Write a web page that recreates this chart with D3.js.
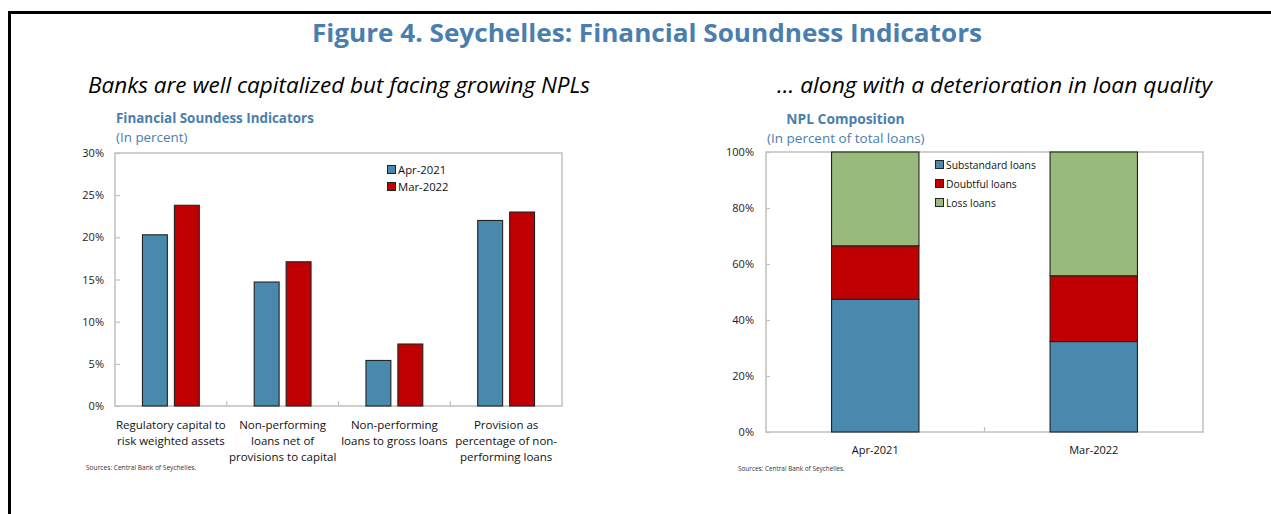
<!DOCTYPE html>
<html>
<head>
<meta charset="utf-8">
<script src="https://cdn.jsdelivr.net/npm/d3@7/dist/d3.min.js"></script>
<style>
  html, body { margin: 0; padding: 0; background: #fff; }
  svg { display: block; }
  text { font-family: "Open Sans", "Noto Sans", sans-serif; }
</style>
</head>
<body>
<svg id="fig" width="1271" height="514"></svg>
<script>
// Financial soundness indicators (percent)
const fsiCategories = [
  ["Regulatory capital to", "risk weighted assets"],
  ["Non-performing", "loans net of", "provisions to capital"],
  ["Non-performing", "loans to gross loans"],
  ["Provision as", "percentage of non-", "performing loans"]
];
const fsiSeries = ["Apr-2021", "Mar-2022"];
const fsiApr2021 = [20.3, 14.7, 5.4, 22.0];
const fsiMar2022 = [23.8, 17.1, 7.35, 23.0];
const fsiTicks = [0, 5, 10, 15, 20, 25, 30];

// NPL composition (percent of total NPLs)
const nplPeriods = ["Apr-2021", "Mar-2022"];
const nplLayers = ["Substandard loans", "Doubtful loans", "Loss loans"];
const nplSubstandard = [47.4, 32.3];
const nplDoubtful = [19.1, 23.5];
const nplLoss = [33.5, 44.2];
const nplTicks = [0, 20, 40, 60, 80, 100];

const BLUE = "#4a89ae";
const RED = "#c00000";
const GREEN = "#98bb7b";
const TITLE_BLUE = "#4a7eae";
const AXIS_GREY = "#c0c0c0";

const svg = d3.select("#fig");

// Frame lines: top rule and left rule
svg.append("line").attr("x1", 8).attr("x2", 1271).attr("y1", 12.5).attr("y2", 12.5)
  .attr("stroke", "#000").attr("stroke-width", 3);
svg.append("line").attr("x1", 9.5).attr("x2", 9.5).attr("y1", 11).attr("y2", 514)
  .attr("stroke", "#000").attr("stroke-width", 3);

// Figure title
svg.append("text").attr("x", 647).attr("y", 42).attr("text-anchor", "middle")
  .attr("font-size", 24.5).attr("font-weight", 700).attr("fill", TITLE_BLUE)
  .attr("textLength", 670).attr("lengthAdjust", "spacingAndGlyphs")
  .text("Figure 4. Seychelles: Financial Soundness Indicators");

// Panel headlines
svg.append("text").attr("x", 88).attr("y", 93)
  .attr("font-size", 22).attr("font-style", "italic").attr("font-family", "Lato, 'Open Sans', sans-serif")
  .attr("textLength", 502).attr("lengthAdjust", "spacingAndGlyphs")
  .text("Banks are well capitalized but facing growing NPLs");
svg.append("text").attr("x", 777).attr("y", 93)
  .attr("font-size", 22).attr("font-style", "italic").attr("font-family", "Lato, 'Open Sans', sans-serif")
  .attr("textLength", 435).attr("lengthAdjust", "spacingAndGlyphs")
  .text("\u2026 along with a deterioration in loan quality");

// ---------- Left panel: grouped bars ----------
{
  const L = 115, R = 562, T = 153, B = 406;
  const g = svg.append("g");

  g.append("text").attr("x", 116).attr("y", 123).attr("font-size", 13.4).attr("font-weight", 700)
    .attr("fill", TITLE_BLUE).text("Financial Soundess Indicators");
  g.append("text").attr("x", 116).attr("y", 142).attr("font-size", 13.4)
    .attr("fill", TITLE_BLUE).text("(In percent)");

  const x = d3.scaleBand().domain(d3.range(fsiCategories.length)).range([L, R]);
  const xs = d3.scaleBand().domain(fsiSeries).range([0, x.bandwidth()]).paddingInner(0.22).paddingOuter(0.86);
  const y = d3.scaleLinear().domain([0, 30]).range([B, T]);

  // plot frame
  g.append("rect").attr("x", L).attr("y", T).attr("width", R - L).attr("height", B - T)
    .attr("fill", "none").attr("stroke", AXIS_GREY).attr("stroke-width", 1.5);

  // y axis
  const ya = g.append("g").attr("transform", `translate(${L},0)`)
    .call(d3.axisLeft(y).tickValues(fsiTicks).tickFormat(d => d + "%").tickSizeInner(-5).tickSizeOuter(0).tickPadding(11));
  ya.select(".domain").remove();
  ya.selectAll(".tick line").attr("stroke", AXIS_GREY).attr("stroke-width", 1.2);
  ya.selectAll(".tick text").attr("font-size", 11).attr("fill", "#222").attr("font-family", "'Open Sans', sans-serif");

  // category separators on x axis
  g.selectAll(".sep").data(d3.range(1, fsiCategories.length)).join("line")
    .attr("x1", d => x(d)).attr("x2", d => x(d)).attr("y1", B).attr("y2", B - 5)
    .attr("stroke", AXIS_GREY).attr("stroke-width", 1.2);

  const rows = fsiCategories.map((c, i) => ({ i, vals: [fsiApr2021[i], fsiMar2022[i]] }));
  const colors = { "Apr-2021": BLUE, "Mar-2022": RED };
  const grp = g.selectAll(".grp").data(rows).join("g").attr("transform", d => `translate(${x(d.i)},0)`);
  grp.selectAll("rect").data(d => fsiSeries.map((s, k) => ({ s, v: d.vals[k] }))).join("rect")
    .attr("x", d => xs(d.s)).attr("width", xs.bandwidth())
    .attr("y", d => y(d.v)).attr("height", d => y(0) - y(d.v))
    .attr("fill", d => colors[d.s]).attr("stroke", "#222").attr("stroke-width", 1.1);

  // category labels
  const lab = g.selectAll(".cat").data(fsiCategories).join("text")
    .attr("text-anchor", "middle").attr("font-size", 11.5).attr("fill", "#111")
    .attr("x", (d, i) => x(i) + x.bandwidth() / 2).attr("y", 428.5);
  lab.selectAll("tspan").data(d => d).join("tspan")
    .attr("x", function () { return this.parentNode.getAttribute("x"); })
    .attr("dy", (d, k) => k === 0 ? 0 : 16).text(d => d);

  // legend
  const lg = g.append("g").attr("transform", "translate(387,165)");
  fsiSeries.forEach((s, k) => {
    lg.append("rect").attr("x", 0.5).attr("y", k * 17 + 0.5).attr("width", 8).attr("height", 8)
      .attr("fill", colors[s]).attr("stroke", "#222").attr("stroke-width", 1);
    lg.append("text").attr("x", 11).attr("y", k * 17 + 9).attr("font-size", 11.3).attr("fill", "#111").text(s);
  });

  g.append("text").attr("x", 86).attr("y", 470).attr("font-size", 6.6).attr("fill", "#333")
    .text("Sources: Central Bank of Seychelles.");
}

// ---------- Right panel: stacked bars ----------
{
  const L = 766, R = 1203, T = 152, B = 432;
  const g = svg.append("g");

  g.append("text").attr("x", 845.5).attr("y", 124).attr("text-anchor", "middle").attr("font-size", 13.8)
    .attr("font-weight", 700).attr("fill", TITLE_BLUE).text("NPL Composition");
  g.append("text").attr("x", 767).attr("y", 143).attr("font-size", 13.5)
    .attr("fill", TITLE_BLUE).text("(In percent of total loans)");

  const x = d3.scaleBand().domain(nplPeriods).range([L, R]).paddingInner(0.6).paddingOuter(0.3);
  const y = d3.scaleLinear().domain([0, 100]).range([B, T]);

  g.append("rect").attr("x", L).attr("y", T).attr("width", R - L).attr("height", B - T)
    .attr("fill", "none").attr("stroke", AXIS_GREY).attr("stroke-width", 1.5);

  const ya = g.append("g").attr("transform", `translate(${L},0)`)
    .call(d3.axisLeft(y).tickValues(nplTicks).tickFormat(d => d + "%").tickSizeInner(-4).tickSizeOuter(0).tickPadding(12));
  ya.select(".domain").remove();
  ya.selectAll(".tick line").attr("stroke", AXIS_GREY).attr("stroke-width", 1.2);
  ya.selectAll(".tick text").attr("font-size", 11).attr("fill", "#222");

  // middle separator tick
  const mid = (L + R) / 2;
  g.append("line").attr("x1", mid).attr("x2", mid).attr("y1", B).attr("y2", B - 5)
    .attr("stroke", AXIS_GREY).attr("stroke-width", 1.2);

  const table = nplPeriods.map((p, i) => ({
    period: p,
    "Substandard loans": nplSubstandard[i],
    "Doubtful loans": nplDoubtful[i],
    "Loss loans": nplLoss[i]
  }));
  const stacked = d3.stack().keys(nplLayers)(table);
  const colors = { "Substandard loans": BLUE, "Doubtful loans": RED, "Loss loans": GREEN };

  g.selectAll(".layer").data(stacked).join("g").attr("fill", d => colors[d.key])
    .selectAll("rect").data(d => d).join("rect")
    .attr("x", d => x(d.data.period)).attr("width", x.bandwidth())
    .attr("y", d => y(Math.min(d[1], 100))).attr("height", d => y(d[0]) - y(Math.min(d[1], 100)))
    .attr("stroke", "#222").attr("stroke-width", 1.1);

  g.selectAll(".xl").data(nplPeriods).join("text")
    .attr("x", d => x(d) + x.bandwidth() / 2).attr("y", 454).attr("text-anchor", "middle")
    .attr("font-size", 11).attr("fill", "#111").text(d => d);

  const lg = g.append("g").attr("transform", "translate(935,160)");
  nplLayers.forEach((s, k) => {
    lg.append("rect").attr("x", 0.5).attr("y", k * 19 + 0.5).attr("width", 8).attr("height", 8)
      .attr("fill", colors[s]).attr("stroke", "#222").attr("stroke-width", 1);
    lg.append("text").attr("x", 11).attr("y", k * 19 + 8.8).attr("font-size", 10.3).attr("fill", "#111").text(s);
  });

  g.append("text").attr("x", 738).attr("y", 471).attr("font-size", 6.4).attr("fill", "#333")
    .text("Sources: Central Bank of Seychelles.");
}
</script>
</body>
</html>
